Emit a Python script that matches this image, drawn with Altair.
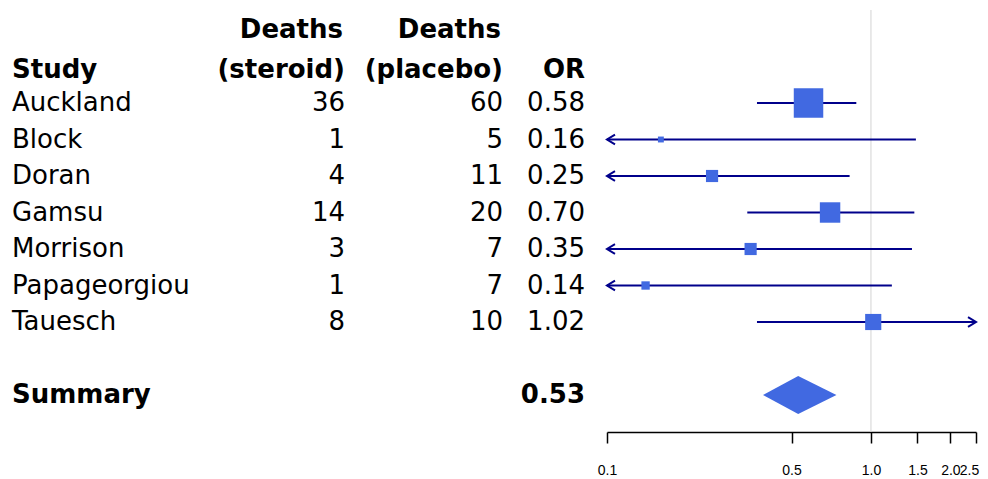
import altair as alt
import pandas as pd

# ---- data ----
studies = ["Auckland", "Block", "Doran", "Gamsu", "Morrison", "Papageorgiou", "Tauesch"]
deaths_steroid = [36, 1, 4, 14, 3, 1, 8]
deaths_placebo = [60, 5, 11, 20, 7, 7, 10]
odds_ratio = [0.58, 0.16, 0.25, 0.70, 0.35, 0.14, 1.02]
ci_lower = [0.37, 0.02, 0.07, 0.34, 0.09, 0.02, 0.37]
ci_upper = [0.88, 1.48, 0.83, 1.46, 1.43, 1.20, 2.80]
box_weight = [100, 4, 17, 48, 17, 8, 30]

summary_label = "Summary"
summary_or = 0.53
summary_lower = 0.39
summary_upper = 0.74

x_ticks = [0.1, 0.5, 1.0, 1.5, 2.0, 2.5]
x_domain = [0.1, 2.5]

header_top = ["", "Deaths", "Deaths", ""]
header_bottom = ["Study", "(steroid)", "(placebo)", "OR"]

# ---- layout constants ----
W, H = 972, 424
FONT = "DejaVu Sans"
FS = 26
BOX = "#4169E1"
LINE = "#00008B"
SUMMARY_ROW = 8
ROW_PX = 36.5
HALF_DIAMOND = 19 / ROW_PX

df = pd.DataFrame({
    "study": studies,
    "steroid": deaths_steroid,
    "placebo": deaths_placebo,
    "or": odds_ratio,
    "lo": ci_lower,
    "hi": ci_upper,
    "w": box_weight,
})
df["row"] = range(len(df))
df["or_txt"] = df["or"].map(lambda v: f"{v:.2f}")

xscale = alt.Scale(type="log", domain=x_domain, range=[599, 968], clamp=True, nice=False)
yscale = alt.Scale(domain=[0, SUMMARY_ROW], range=[95, 95 + ROW_PX * SUMMARY_ROW], nice=False, zero=False)

xaxis = alt.Axis(values=x_ticks, format=".1f", title=None, grid=False,
                 domainColor="black", tickColor="black", labelColor="black",
                 domainWidth=1.5, tickWidth=1.5, tickSize=11, labelPadding=20,
                 labelFont="Liberation Sans", labelFontSize=14,
                 labelOffset={"condition": {"test": "datum.value >= 2.5", "value": -7}, "value": 0},
                 labelOverlap=False, labelFlush=False, labelBound=False)


def X(field):
    return alt.X(field, scale=xscale, axis=xaxis, title=None)


ref = alt.Chart(pd.DataFrame({"x": [1.0]})).mark_rule(color="#d3d3d3", strokeWidth=1).encode(
    x=X("x:Q"), y=alt.value(2), y2=alt.value(H))

base = alt.Chart(df)
Y = alt.Y("row:Q", scale=yscale, axis=None)

ci = base.mark_rule(color=LINE, strokeWidth=2).encode(x=X("lo:Q"), x2="hi:Q", y=Y)

left_arrows = base.transform_filter(alt.datum.lo < x_domain[0]).mark_point(
    shape="M1,-0.6L0,0L1,0.6", size=256, filled=False, color=LINE, strokeWidth=2, opacity=1
).encode(x=X("lo:Q"), y=Y)

right_arrows = base.transform_filter(alt.datum.hi > x_domain[1]).mark_point(
    shape="M-1,-0.6L0,0L-1,0.6", size=256, filled=False, color=LINE, strokeWidth=2, opacity=1
).encode(x=X("hi:Q"), y=Y)

boxes = base.mark_square(color=BOX, opacity=1).encode(
    x=X("or:Q"), y=Y,
    size=alt.Size("w:Q", scale=alt.Scale(domain=[0, 100], range=[0, 870]), legend=None))

diamond_df = pd.DataFrame({
    "x": [summary_lower, summary_or, summary_upper],
    "top": [SUMMARY_ROW, SUMMARY_ROW - HALF_DIAMOND, SUMMARY_ROW],
    "bot": [SUMMARY_ROW, SUMMARY_ROW + HALF_DIAMOND, SUMMARY_ROW],
})
diamond = alt.Chart(diamond_df).mark_area(color=BOX, opacity=1, interpolate="linear").encode(
    x=X("x:Q"), y=alt.Y("top:Q", scale=yscale, axis=None), y2="bot:Q")


def text_mark(align, bold=False):
    return dict(align=align, baseline="middle", font=FONT, fontSize=FS,
                fontWeight="bold" if bold else "normal", color="black")


def col_text(field, xpx, align, bold=False):
    return base.mark_text(**text_mark(align, bold)).encode(
        x=alt.value(xpx), y=Y, text=f"{field}:N")


t_study = col_text("study", 4, "left")
t_ster = col_text("steroid", 337, "right")
t_plac = col_text("placebo", 495, "right")
t_or = col_text("or_txt", 577, "right")

top_x = [4, 335, 493, 577]
bottom_x = [4, 337, 495, 577]
aligns = ["left", "right", "right", "right"]

headers = []
for i in range(4):
    d = pd.DataFrame({"t1": [header_top[i]], "t2": [header_bottom[i]], "r1": [-2.0], "r2": [-0.9]})
    headers.append(alt.Chart(d).mark_text(**text_mark(aligns[i], True)).encode(
        x=alt.value(top_x[i]), y=alt.Y("r1:Q", scale=yscale, axis=None), text="t1:N"))
    headers.append(alt.Chart(d).mark_text(**text_mark(aligns[i], True)).encode(
        x=alt.value(bottom_x[i]), y=alt.Y("r2:Q", scale=yscale, axis=None), text="t2:N"))

sdf = pd.DataFrame({"label": [summary_label], "val": [f"{summary_or:.2f}"], "row": [SUMMARY_ROW]})
s_label = alt.Chart(sdf).mark_text(**text_mark("left", True)).encode(
    x=alt.value(4), y=Y, text="label:N")
s_val = alt.Chart(sdf).mark_text(**text_mark("right", True)).encode(
    x=alt.value(577), y=Y, text="val:N")

chart = alt.layer(
    ref, ci, left_arrows, right_arrows, boxes, diamond,
    t_study, t_ster, t_plac, t_or, s_label, s_val, *headers
).properties(
    width=W, height=H,
    autosize=alt.AutoSizeParams(type="none"),
    padding={"left": 0, "top": 0, "right": 0, "bottom": 48},
).configure_view(stroke=None)

chart.save("out.html", embed_options={"renderer": "svg", "actions": False})
